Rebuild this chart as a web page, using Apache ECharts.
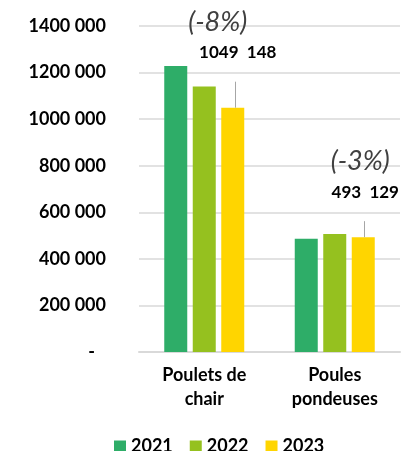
<!DOCTYPE html>
<html>
<head>
<meta charset="utf-8">
<script src="https://cdn.jsdelivr.net/npm/echarts@6/dist/echarts.min.js"></script>
<style>
  html, body { margin: 0; padding: 0; background: #ffffff; }
  #chart { width: 409px; height: 451px; }
</style>
</head>
<body>
<div id="chart"></div>
<script>
// ---- data ----
var categories = ['Poulets de\nchair', 'Poules\npondeuses'];
var seriesNames = ['2021', '2022', '2023'];
var values2021 = [1228000, 486000];
var values2022 = [1140000, 507000];
var values2023 = [1049148, 493129];
var changeLabels = ['(-8%)', '(-3%)'];
var yTicks = [0, 200000, 400000, 600000, 800000, 1000000, 1200000, 1400000];

// ---- styling / layout (not data) ----
var colors = ['#2EAD68', '#95C11F', '#FFD500'];
var FONT = 'Lato';
var BAR_W = 23;
var BAR_GAP_PX = 5.5;
var labelDistance = [26, 16];
var labelDx = [5, 2];
var lineDx = [2.5, 1];
var pctShift = [20, 5];

function fmtAxis(v) {
  if (v === 0) return '{z|-}';
  var k = Math.floor(v / 1000);
  var r = String(v % 1000).padStart(3, '0');
  return k + ' ' + r;
}
function fmtValue(v) {
  var k = Math.floor(v / 1000);
  var r = String(v % 1000).padStart(3, '0');
  return k + '  ' + r;
}

function makeLabel(i) {
  return {
    show: true,
    position: 'top',
    distance: labelDistance[i],
    offset: [labelDx[i], 0],
    padding: [0, 0, 19, 0],
    formatter: function (p) {
      return '{pct|' + changeLabels[p.dataIndex] + '}\n{val|' + fmtValue(p.value) + '}';
    },
    rich: {
      pct: {
        fontFamily: FONT, fontSize: 27, fontStyle: 'italic', fontWeight: 'normal',
        color: '#404040', lineHeight: 41, align: 'center',
        padding: [0, pctShift[i] * 2, 0, 0]
      },
      val: {
        fontFamily: FONT, fontSize: 17, fontWeight: 'bold',
        color: '#000000', lineHeight: 20, align: 'center'
      }
    }
  };
}

var chart = echarts.init(document.getElementById('chart'), null, { renderer: 'canvas' });

var option = {
  animation: false,
  backgroundColor: '#ffffff',
  textStyle: { fontFamily: FONT },
  grid: { left: 139, right: 9, top: 26, bottom: 99, containLabel: false, outerBoundsMode: 'none' },
  legend: {
    data: seriesNames,
    left: 114,
    top: 437,
    padding: 0,
    icon: 'rect',
    itemWidth: 12,
    itemHeight: 11,
    itemGap: 17,
    textStyle: { fontFamily: FONT, fontSize: 18, fontWeight: 'bold', color: '#000000' }
  },
  xAxis: {
    type: 'category',
    data: categories,
    axisLine: { show: true, lineStyle: { color: '#D9D9D9', width: 2 } },
    axisTick: { show: false },
    axisLabel: {
      fontFamily: FONT, fontSize: 18, fontWeight: 'bold', color: '#000000',
      lineHeight: 24, margin: 11, interval: 0
    }
  },
  yAxis: {
    type: 'value',
    min: yTicks[0],
    max: yTicks[yTicks.length - 1],
    interval: yTicks[1] - yTicks[0],
    axisLine: { show: false },
    axisTick: { show: false },
    splitLine: { lineStyle: { color: '#D9D9D9', width: 1.5 } },
    axisLabel: {
      fontFamily: FONT, fontSize: 18, fontWeight: 'bold', color: '#000000',
      margin: 33,
      formatter: fmtAxis,
      rich: { z: { fontFamily: FONT, fontSize: 18, fontWeight: 'bold', color: '#000000', padding: [0, 11, 0, 0] } }
    }
  },
  series: [
    {
      name: seriesNames[0], type: 'bar', data: values2021,
      barWidth: BAR_W, barGap: (BAR_GAP_PX / BAR_W * 100) + '%',
      itemStyle: { color: colors[0] }
    },
    {
      name: seriesNames[1], type: 'bar', data: values2022,
      barWidth: BAR_W, barGap: (BAR_GAP_PX / BAR_W * 100) + '%',
      itemStyle: { color: colors[1] }
    },
    {
      name: seriesNames[2], type: 'bar',
      data: values2023.map(function (v, i) { return { value: v, label: makeLabel(i) }; }),
      barWidth: BAR_W, barGap: (BAR_GAP_PX / BAR_W * 100) + '%',
      itemStyle: { color: colors[2] }
    },
    {
      // leader lines from the 2023 bars up to their value labels
      type: 'custom',
      silent: true,
      z: 5,
      data: values2023.map(function (v, i) { return [i, v]; }),
      renderItem: function (params, api) {
        var i = api.value(0);
        var p = api.coord([i, api.value(1)]);
        var x = Math.round(p[0] + BAR_W + BAR_GAP_PX + lineDx[i]) + 0.5;
        return {
          type: 'line',
          shape: { x1: x, y1: p[1], x2: x, y2: p[1] - labelDistance[i] },
          style: { stroke: '#A6A6A6', lineWidth: 1 }
        };
      }
    }
  ]
};

chart.setOption(option);
</script>
</body>
</html>
